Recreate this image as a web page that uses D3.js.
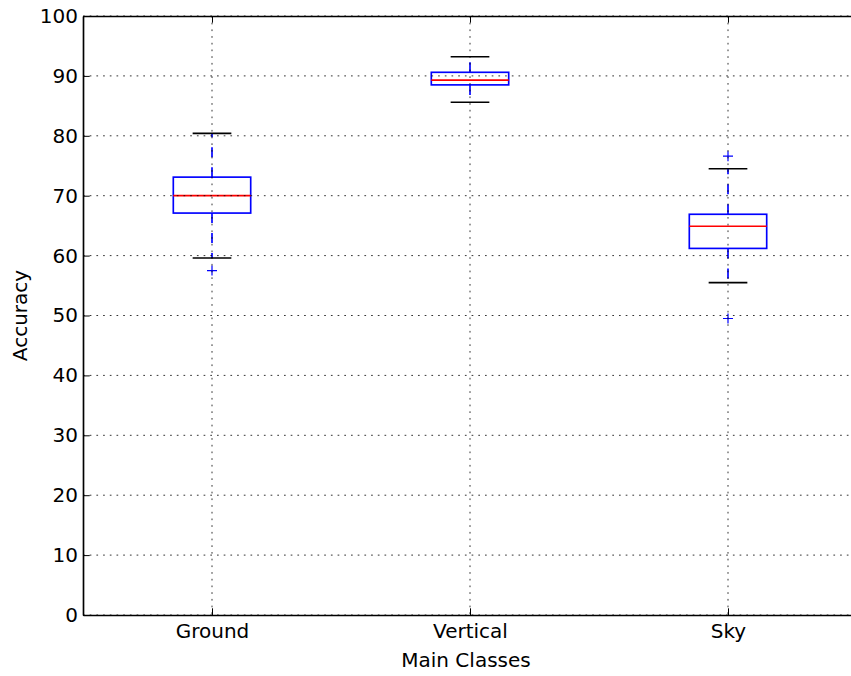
<!DOCTYPE html>
<html>
<head>
<meta charset="utf-8">
<script src="https://cdn.jsdelivr.net/npm/d3@7"></script>
<style>
  body { margin: 0; background: white; }
  text { font-family: "DejaVu Sans", sans-serif; }
</style>
</head>
<body>
<script>
// Box plot statistics
const categories = ["Ground", "Vertical", "Sky"];
const whiskerLow = [59.6, 85.6, 55.5];
const q1 = [67.1, 88.5, 61.2];
const median = [70.0, 89.3, 64.9];
const q3 = [73.1, 90.6, 66.9];
const whiskerHigh = [80.4, 93.2, 74.5];
const outliers = [[57.5], [], [76.6, 49.5]];
const yTicks = [0, 10, 20, 30, 40, 50, 60, 70, 80, 90, 100];

const W = 851, H = 676;
const m = { left: 83, top: 16, bottom: 615 };
const pt = 1.667;

const svg = d3.select("body").append("svg")
    .attr("width", W)
    .attr("height", H);

const x = d3.scaleLinear().domain([0.5, 3.5]).range([m.left, m.left + 3 * 258]);
const y = d3.scaleLinear().domain([0, 100]).range([m.bottom, m.top]);

const boxW = 0.3 * (x(2) - x(1));
const capW = boxW / 2;

const g = svg.append("g");

categories.forEach((c, i) => {
    const cx = x(i + 1);

    // whiskers
    g.append("line")
        .attr("x1", cx).attr("x2", cx)
        .attr("y1", y(q3[i])).attr("y2", y(whiskerHigh[i]))
        .attr("stroke", "blue").attr("stroke-width", pt)
        .attr("stroke-dasharray", "10,10");
    g.append("line")
        .attr("x1", cx).attr("x2", cx)
        .attr("y1", y(q1[i])).attr("y2", y(whiskerLow[i]))
        .attr("stroke", "blue").attr("stroke-width", pt)
        .attr("stroke-dasharray", "10,10");

    // caps
    [whiskerLow[i], whiskerHigh[i]].forEach(v => {
        g.append("line")
            .attr("x1", cx - capW / 2).attr("x2", cx + capW / 2)
            .attr("y1", y(v)).attr("y2", y(v))
            .attr("stroke", "black").attr("stroke-width", pt);
    });

    // box
    g.append("rect")
        .attr("x", cx - boxW / 2)
        .attr("y", y(q3[i]))
        .attr("width", boxW)
        .attr("height", y(q1[i]) - y(q3[i]))
        .attr("fill", "none")
        .attr("stroke", "blue").attr("stroke-width", pt);

    // median
    g.append("line")
        .attr("x1", cx - boxW / 2).attr("x2", cx + boxW / 2)
        .attr("y1", y(median[i])).attr("y2", y(median[i]))
        .attr("stroke", "red").attr("stroke-width", pt);

    // fliers
    outliers[i].forEach(v => {
        g.append("path")
            .attr("d", `M${cx - 5},${y(v)}H${cx + 5}M${cx},${y(v) - 5}V${y(v) + 5}`)
            .attr("stroke", "blue").attr("stroke-width", 1.2);
    });
});

// grid (drawn on top, classic style)
const grid = svg.append("g")
    .attr("stroke", "black").attr("stroke-width", 0.8)
    .attr("stroke-dasharray", "1.7,5");
yTicks.forEach(t => {
    grid.append("line")
        .attr("x1", m.left).attr("x2", W)
        .attr("y1", y(t)).attr("y2", y(t));
});
categories.forEach((c, i) => {
    grid.append("line")
        .attr("x1", x(i + 1)).attr("x2", x(i + 1))
        .attr("y1", m.top).attr("y2", m.bottom);
});

// axes: ticks inside
const yAxis = svg.append("g")
    .attr("transform", `translate(${m.left},0)`)
    .call(d3.axisLeft(y).tickValues(yTicks).tickSizeInner(-6.7).tickSizeOuter(0).tickPadding(12));
const xAxis = svg.append("g")
    .attr("transform", `translate(0,${m.bottom})`)
    .call(d3.axisBottom(x).tickValues([1, 2, 3])
        .tickFormat(d => categories[d - 1])
        .tickSizeInner(-6.7).tickSizeOuter(0).tickPadding(14));
const xTop = svg.append("g")
    .attr("transform", `translate(0,${m.top})`)
    .call(d3.axisTop(x).tickValues([1, 2, 3]).tickFormat("")
        .tickSizeInner(-6.7).tickSizeOuter(0));

[yAxis, xAxis, xTop].forEach(a => {
    a.select(".domain").attr("stroke", "black").attr("stroke-width", pt);
    a.selectAll(".tick line").attr("stroke", "black").attr("stroke-width", pt * 0.6);
    a.selectAll("text")
        .attr("font-family", "DejaVu Sans")
        .attr("font-size", 20)
        .attr("fill", "black");
});
yAxis.selectAll(".tick text").attr("x", -5);
xAxis.selectAll(".tick text").attr("dy", 0).attr("y", 23);

// axis labels
svg.append("text")
    .attr("x", 466).attr("y", 667)
    .attr("text-anchor", "middle")
    .attr("font-size", 20)
    .text("Main Classes");
svg.append("text")
    .attr("transform", `translate(27,${(m.top + m.bottom) / 2}) rotate(-90)`)
    .attr("text-anchor", "middle")
    .attr("font-size", 20)
    .text("Accuracy");
</script>
</body>
</html>
